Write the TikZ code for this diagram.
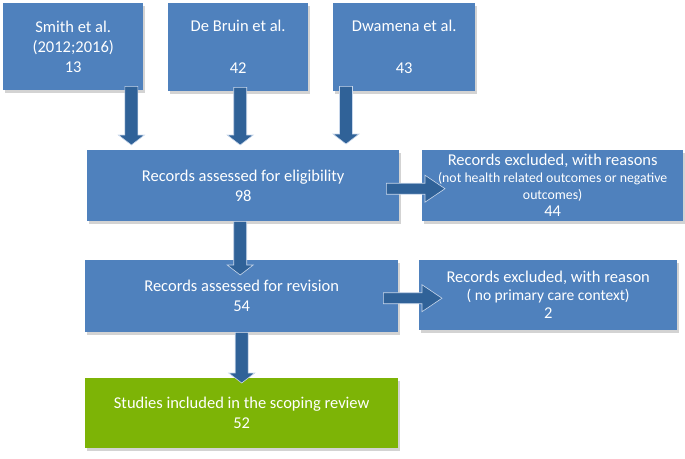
\documentclass[tikz,border=0pt]{standalone}
\usepackage{fontspec}
\setmainfont{Carlito}
\usetikzlibrary{shadows,calc}
\definecolor{boxblue}{RGB}{79,129,189}
\definecolor{arrowblue}{RGB}{48,98,152}
\definecolor{arrowedge}{RGB}{200,215,235}
\definecolor{boxgreen}{RGB}{125,180,6}
\tikzset{
  box/.style={fill=boxblue, text=white, align=center, inner sep=0pt, anchor=north west,
    font=\fontsize{16.5}{20}\selectfont,
    drop shadow={opacity=0.35, shadow xshift=2pt, shadow yshift=-3pt}},
  fatarr/.style={fill=arrowblue, draw=arrowedge, line width=0.6pt, line join=miter},
}
\newcommand{\varrowdraw}[2]{%
  \path[fatarr] let \p1=(#1), \p2=(#2) in
    (\x1-6.5pt,\y1) -- (\x1+6.5pt,\y1) -- (\x1+6.5pt,\y2+10pt) -- (\x1+13pt,\y2+10pt)
    -- (\x1,\y2) -- (\x1-13pt,\y2+10pt) -- (\x1-6.5pt,\y2+10pt) -- cycle;}
\newcommand{\harrowdraw}[2]{%
  \path[fatarr] let \p1=(#1), \p2=(#2) in
    (\x1,\y1+5.5pt) -- (\x2-20pt,\y1+5.5pt) -- (\x2-20pt,\y1+13.5pt) -- (\x2,\y1)
    -- (\x2-20pt,\y1-13.5pt) -- (\x2-20pt,\y1-5.5pt) -- (\x1,\y1-5.5pt) -- cycle;}
\begin{document}
\begin{tikzpicture}[x=1pt,y=-1pt]
\useasboundingbox (0,0) rectangle (685,458);
\node[box, minimum width=140pt, minimum height=87pt] (smith) at (3,3)
  {Smith et al.\\(2012;2016)\\13};
\node[box, minimum width=140pt, minimum height=88pt] (bruin) at (168,3)
  {De Bruin et al.\\[22pt]42};
\node[box, minimum width=142pt, minimum height=88pt] (dwam) at (333,3)
  {Dwamena et al.\\[22pt]43};
\node[box, minimum width=312pt, minimum height=71pt] (eli) at (87,150)
  {Records assessed for eligibility\\98};
\node[box, minimum width=313pt, minimum height=72pt] (rev) at (85,260)
  {Records assessed for revision\\54};
\node[box, minimum width=261pt, minimum height=71pt, font=\fontsize{13.8}{17}\selectfont] (ex1) at (422,150)
  {{\fontsize{16.5}{17}\selectfont Records excluded, with reasons}\\(not health related outcomes or negative\\outcomes)\\{\fontsize{16.5}{17}\selectfont 44}};
\node[box, minimum width=258pt, minimum height=70pt, font=\fontsize{15.5}{18}\selectfont] (ex2) at (419,260)
  {{\fontsize{16.5}{18}\selectfont Records excluded, with reason}\\( no primary care context)\\{\fontsize{16.5}{18}\selectfont 2}};
\node[box, fill=boxgreen, minimum width=313pt, minimum height=70pt] (incl) at (85,378)
  {Studies included in the scoping review\\52};
% connector end points
\coordinate (a1s) at ($(smith.south east)+(-12,-4)$);
\coordinate (a1e) at ($(a1s |- eli.north)+(0,-5)$);
\coordinate (a2s) at ($(bruin.south)+(2,-4)$);
\coordinate (a2e) at ($(a2s |- eli.north)+(0,-5)$);
\coordinate (a3s) at ($(dwam.south west)+(13,-5)$);
\coordinate (a3e) at ($(a3s |- eli.north)+(0,-6)$);
\coordinate (a4s) at (eli.south -| a2s);
\coordinate (a4e) at ($(a4s |- rev.north)+(0,15)$);
\coordinate (a5s) at ($(eli.east)+(-13,3)$);
\coordinate (a5e) at ($(a5s -| ex1.west)+(23,0)$);
\coordinate (a6s) at ($(rev.east)+(-15,2)$);
\coordinate (a6e) at ($(a6s -| ex2.west)+(23,0)$);
\coordinate (a7s) at ($(rev.south)+(0,0)$);
\coordinate (a7e) at ($(a7s |- incl.north)+(0,5)$);
\varrowdraw{a1s}{a1e}
\varrowdraw{a2s}{a2e}
\varrowdraw{a3s}{a3e}
\varrowdraw{a4s}{a4e}
\harrowdraw{a5s}{a5e}
\harrowdraw{a6s}{a6e}
\varrowdraw{a7s}{a7e}
\end{tikzpicture}
\end{document}
